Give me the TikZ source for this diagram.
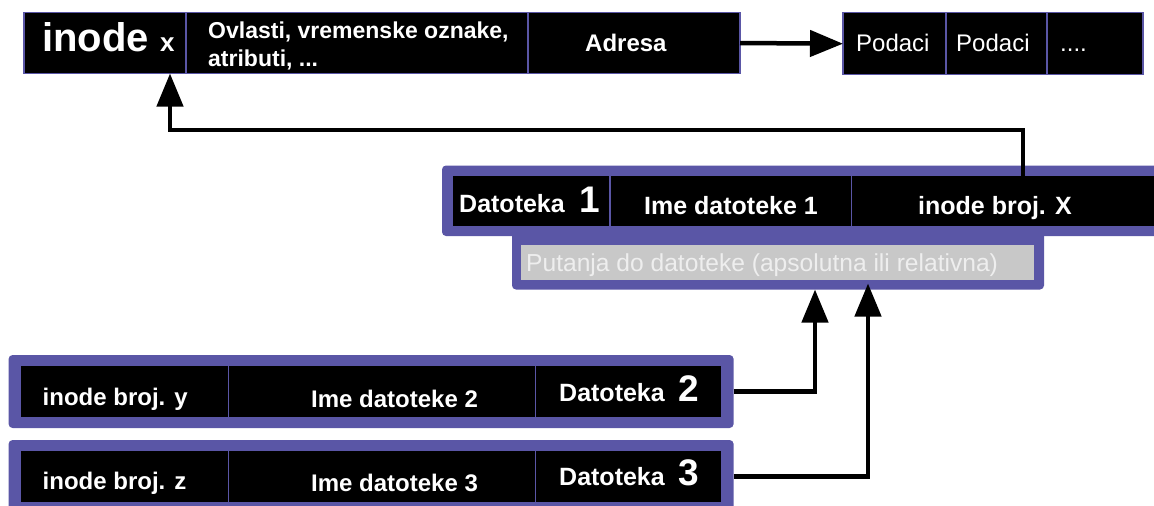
\documentclass[tikz,border=0pt]{standalone}
\usepackage{fontspec}
\setmainfont{Liberation Sans}
\usetikzlibrary{arrows.meta}
\definecolor{pur}{RGB}{90,86,166}
\definecolor{gbox}{RGB}{200,200,200}
\definecolor{gtxt}{RGB}{238,238,238}
\begin{document}
\begin{tikzpicture}[x=1pt,y=-1pt,
  cell/.style={draw=pur, line width=1.3pt, fill=black, anchor=north west, inner sep=0pt, outer sep=0pt},
  frame/.style={fill=pur, rounded corners=4pt, anchor=north west, inner sep=0pt, outer sep=0pt},
  grey/.style={fill=gbox, anchor=north west, inner sep=0pt, outer sep=0pt},
  lb/.style={text=white, font=\bfseries\fontsize{24}{28}\selectfont, inner sep=0pt, anchor=base west},
  lbc/.style={lb, anchor=base},
  lr/.style={text=white, font=\fontsize{24}{28}\selectfont, inner sep=0pt, anchor=base west},
  big/.style={text=white, font=\bfseries\fontsize{37}{40}\selectfont, inner sep=0pt, anchor=base west},
  conn/.style={line width=4.5pt, -{Triangle[length=33pt,width=26pt]}}
]
\useasboundingbox (0,0) rectangle (1154,506);
% top inode row
\node[cell, minimum width=162pt, minimum height=61pt] (ix) at (24,12.5) {};
\node[cell, minimum width=342pt, minimum height=61pt] (ov) at (186,12.5) {};
\node[cell, minimum width=212pt, minimum height=61pt] (adr) at (528,12.5) {};
\node[lb, font=\bfseries\fontsize{40}{42}\selectfont] (tinode) at (42,51.7) {inode};
\node[lb, font=\bfseries\fontsize{26}{28}\selectfont] (tx) at (160,51.7) {x};
\node[lb, font=\bfseries\fontsize{23}{28}\selectfont] (tov1) at (208,38.3) {Ovlasti, vremenske oznake,};
\node[lb, font=\bfseries\fontsize{23}{28}\selectfont] (tov2) at (208,66.7) {atributi, ...};
\node[lb] (tadr) at (585,51) {Adresa};
% data blocks
\node[cell, minimum width=103pt, minimum height=62pt] (pd1) at (843,12.7) {};
\node[cell, minimum width=101pt, minimum height=62pt] (pd2) at (946,12.7) {};
\node[cell, minimum width=96pt, minimum height=62pt] (pd3) at (1047,12.7) {};
\node[lr] (tpd1) at (856,51.7) {Podaci};
\node[lr] (tpd2) at (956,51.7) {Podaci};
\node[lr] (tpd3) at (1060,51.7) {....};
% file 1
\node[frame, minimum width=720pt, minimum height=70.5pt] (f1) at (442,165.5) {};
\node[frame, minimum width=532pt, minimum height=64.5pt] (f1tab) at (512,225) {};
\node[grey, minimum width=513pt, minimum height=34.5pt] (pth) at (521,245) {};
\node[lr, text=gtxt, font=\fontsize{24.6}{28}\selectfont] (tpth) at (526,271.7) {Putanja do datoteke (apsolutna ili relativna)};
\node[cell, minimum width=157.3pt, minimum height=51.5pt] (c11) at (452.7,175.5) {};
\node[cell, minimum width=241.5pt, minimum height=51.5pt] (c12) at (610,175.5) {};
\node[cell, minimum width=310pt, minimum height=51.5pt] (c13) at (851.5,175.5) {};
\node[lb, font=\bfseries\fontsize{25}{28}\selectfont] (td1) at (459,212.7) {Datoteka};
\node[big] (tn1) at (579,212.7) {1};
\node[lbc, font=\bfseries\fontsize{25}{28}\selectfont] (ti1) at (731,214) {Ime datoteke 1};
\node[lbc, font=\bfseries\fontsize{25}{28}\selectfont] (tb1) at (995,214) {inode broj. X};
% file 2
\node[frame, minimum width=725pt, minimum height=73pt] (f2) at (8.6,355) {};
\node[cell, minimum width=208.5pt, minimum height=53pt] (c21) at (20,365) {};
\node[cell, minimum width=307.1pt, minimum height=53pt] (c22) at (228.5,365) {};
\node[cell, minimum width=186.4pt, minimum height=53pt] (c23) at (535.6,365) {};
\node[lb] (tb2) at (42.5,405) {inode broj. y};
\node[lbc] (ti2) at (394.6,407) {Ime datoteke 2};
\node[lb, font=\bfseries\fontsize{25}{28}\selectfont] (td2) at (559,401) {Datoteka};
\node[big] (tn2) at (678,401) {2};
% file 3
\node[frame, minimum width=725pt, minimum height=73pt] (f3) at (8.6,440) {};
\node[cell, minimum width=208.5pt, minimum height=53pt] (c31) at (20,450) {};
\node[cell, minimum width=307.1pt, minimum height=53pt] (c32) at (228.5,450) {};
\node[cell, minimum width=186.4pt, minimum height=53pt] (c33) at (535.6,450) {};
\node[lb] (tb3) at (42.5,489.5) {inode broj. z};
\node[lbc] (ti3) at (394.6,491.5) {Ime datoteke 3};
\node[lb, font=\bfseries\fontsize{25}{28}\selectfont] (td3) at (559,485.5) {Datoteka};
\node[big] (tn3) at (678,485.5) {3};
% connectors
\draw[conn] (adr.east) -- (pd1.west);
\draw[conn] ([xshift=171.5pt]c13.north west) -- ++(0,-45.5) -| ([xshift=146pt]ix.south west);
\draw[conn] (f2.east) -| ([xshift=303pt]f1tab.south west);
\draw[conn] (f3.east) -| ([xshift=356pt,yshift=6pt]f1tab.south west);
\end{tikzpicture}
\end{document}
